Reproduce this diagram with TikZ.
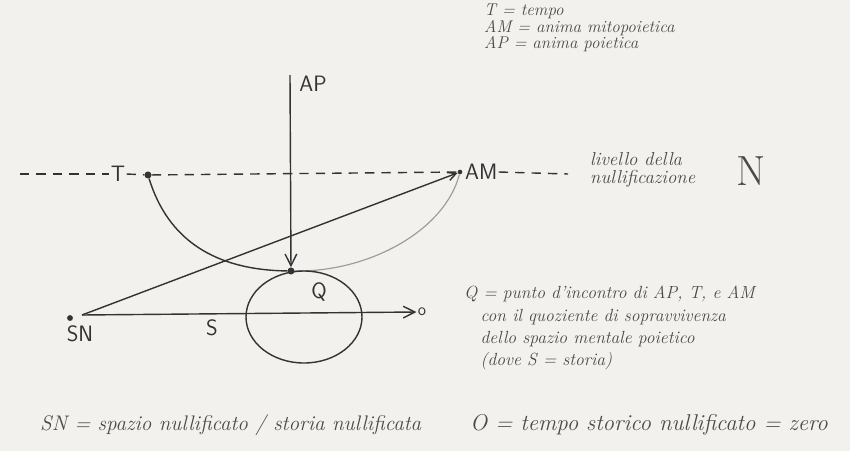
\documentclass[tikz,border=0pt]{standalone}
\usepackage{fontspec}
\usepackage{tikz}
\usetikzlibrary{arrows.meta,positioning,calc}
\definecolor{paper}{HTML}{F2F1EE}
\definecolor{ink}{HTML}{333333}
\definecolor{pencil}{HTML}{4A4A4A}
\tikzset{
  dot/.style={circle, fill=ink, inner sep=0pt, minimum size=6pt},
  lbl/.style={font=\sffamily\fontsize{19}{19}\selectfont, text=ink, inner sep=1pt},
  note/.style={font=\fontsize{15}{19}\selectfont\itshape, text=pencil, align=left, inner sep=0pt},
  nline/.style={draw=ink, line width=1.2pt, dash pattern=on 8pt off 6pt},
  arr/.style={-{Straight Barb[length=3.5mm, width=3.5mm]}, draw=ink, line width=1.2pt},
}

\begin{document}
\begin{tikzpicture}[x=0.03cm, y=-0.03cm]
  % paper
  \fill[paper] (0,0) rectangle (850,451);
  % points
  \node[dot] (T) at (148,175) {};
  \node[dot, minimum size=4pt] (AM) at (460,172) {};
  \node[dot] (Q) at (291,271) {};
  \node[dot, minimum size=5pt] (SN) at (70,318) {};
  \coordinate (aptop) at (290,75);
  \coordinate (sstart) at (82,315);
  \coordinate (nleft) at (20,174);
  \coordinate (nright) at (568,174);
  % labels
  \node[lbl] (ap) at (313,84) {AP};
  \node[lbl, fill=paper] (tl) at (118,174) {T};
  \node[lbl, right=1pt of AM] (aml) {AM};
  \node[lbl] (ql) at (319,292) {Q};
  \node[lbl] (sl) at (212,328) {S};
  \node[lbl] (snl) at (80,334) {SN};
  \node[lbl, font=\sffamily\Large] (O) at (422,312) {o};
  % level N
  \draw[nline] (nleft) -- (tl.west);
  \draw[nline] (tl.east) -- (T) -- (AM);
  \draw[nline] (aml.east) -- (nright);
  % curves
  \draw[ink, line width=1.2pt] (T) .. controls (168,240) and (215,270) .. (Q);
  \draw[pencil!55, line width=1pt] (Q) .. controls (370,272) and (445,230) .. (AM);
  \draw[ink, line width=1.2pt] (304,317) ellipse [x radius=58, y radius=46];
  % arrows
  \draw[arr] (aptop) -- (Q);
  \draw[arr, -{Straight Barb[length=2.5mm, width=2.5mm]}] (sstart) -- (AM);
  \draw[arr] (sstart) -- (O.west);
  % notes
  \node[note, anchor=north west, font=\fontsize{14.5}{13}\selectfont\itshape] (legtop) at (484,4)
    {T = tempo\\AM = anima mitopoietica\\AP = anima poietica};
  \node[note, anchor=west, font=\fontsize{16}{16}\selectfont\itshape] (liv) at (590,170)
    {livello della\\nullificazione};
  \node[font=\fontsize{36}{36}\selectfont, text=pencil, inner sep=0pt] (bigN) at (751,171) {N};
  \node[note, anchor=north west] (legq) at (464,286)
    {Q = punto d'incontro di AP, T, e AM\\
     \hspace{14pt}con il quoziente di sopravvivenza\\
     \hspace{14pt}dello spazio mentale poietico\\
     \hspace{14pt}(dove S = storia)};
  \node[note, anchor=west, font=\fontsize{18}{19}\selectfont\itshape] (legsn) at (40,425)
    {SN = spazio nullificato / storia nullificata};
  \node[note, anchor=west, font=\fontsize{19.5}{19}\selectfont\itshape] (lego) at (470,425)
    {O = tempo storico nullificato = zero};
\end{tikzpicture}
\end{document}
